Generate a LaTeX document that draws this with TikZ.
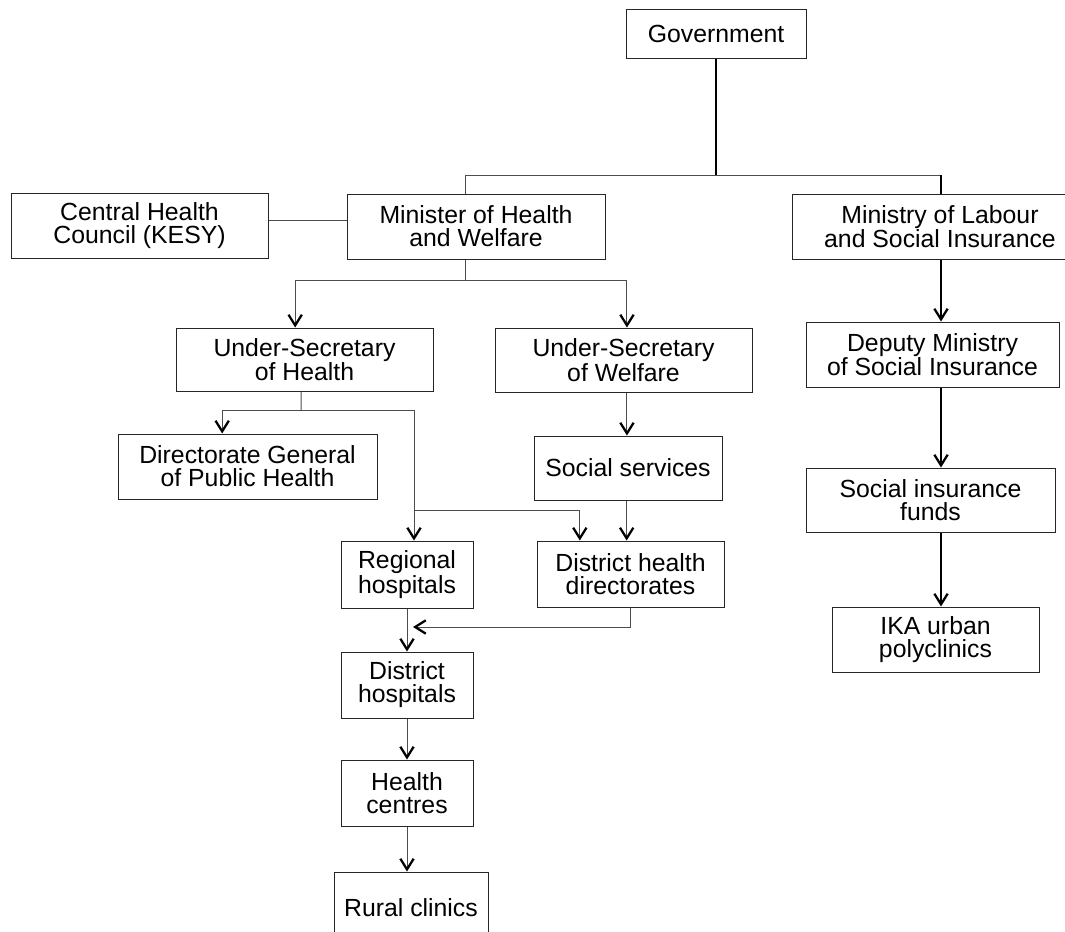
\documentclass[tikz,border=0pt]{standalone}
\usepackage{fontspec}
\setmainfont{Liberation Sans}
\usetikzlibrary{arrows.meta}

\tikzset{
  org/.style={draw=black!85, line width=0.75pt, align=center, inner sep=0pt,
    font=\fontsize{18.6}{17.3}\selectfont},
  boxsize/.style 2 args={minimum width=#1*0.75pt, minimum height=#2*0.75pt},
  link/.style={draw=black!70, line width=0.75pt},
  heavy/.style={draw=black, line width=1.6pt},
  arr/.style={-{Straight Barb[length=8pt,width=10pt,line width=1.7pt,color=black]}}
}

\begin{document}
\begin{tikzpicture}[x=0.75pt, y=-0.75pt]
  \useasboundingbox (0,0) rectangle (1065,932);

  % Boxes
  \node[org, boxsize={180}{49}] (gov) at (716,33.5) {Government};
  \node[org, boxsize={257}{65}] (kesy) at (139.5,225.5) {Central Health\\Council (KESY)};
  \node[org, boxsize={258}{65}] (minh) at (476,226.5) {Minister of Health\\and Welfare};
  \node[org, boxsize={296}{65}] (minl) at (940,226.5) {Ministry of Labour\\and Social Insurance};
  \node[org, boxsize={257}{63}] (ush) at (304.5,359.5) {Under-Secretary\\of Health};
  \node[org, boxsize={257}{64}] (usw) at (623.5,360) {Under-Secretary\\of Welfare};
  \node[org, boxsize={259}{65}] (dgph) at (247.5,466.5) {Directorate General\\of Public Health};
  \node[org, boxsize={188}{64}] (socs) at (628,468) {Social services};
  \node[org, boxsize={132}{67}] (regh) at (407,574.5) {Regional\\hospitals};
  \node[org, boxsize={187}{66}] (dhd) at (630.5,574) {District health\\directorates};
  \node[org, boxsize={132}{66}] (disth) at (407,685) {District\\hospitals};
  \node[org, boxsize={132}{66}] (hc) at (407,793) {Health\\centres};
  \node[org, boxsize={154}{72}] (rural) at (411,908) {Rural clinics};
  \node[org, boxsize={253}{65}] (dep) at (932.5,354.5) {Deputy Ministry\\of Social Insurance};
  \node[org, boxsize={249}{64}] (sif) at (930.5,500) {Social insurance\\funds};
  \node[org, boxsize={207}{65}] (ika) at (935.5,639.5) {IKA urban\\polyclinics};

  % Junctions
  \coordinate (jgov) at (716,175);
  \coordinate (jl) at (465,175);
  \coordinate (jr) at (941,175);
  \coordinate (jm) at (465,280);
  \coordinate (js) at (301,410);
  \coordinate (jh) at (414,510);
  \coordinate (jd) at (413,627);

  % Top level
  \draw[heavy, line width=2.2pt] (gov.south) -- (jgov);
  \draw[link] (jl |- minh.north) -- (jl) -- (jr);
  \draw[heavy] (jr) -- (jr |- minl.north);
  \draw[link] ([yshift=3.4pt]kesy.east) -- ([yshift=3.4pt]kesy.east -| minh.west);

  % Health and welfare
  \draw[link] (jm |- minh.south) -- (jm);
  \draw[link, arr] (jm) -| ([xshift=-7pt]ush.north);
  \draw[link, arr] (jm) -| ([xshift=2.6pt]usw.north);
  \draw[link] ([xshift=-2.6pt]ush.south) -- (js);
  \draw[link, arr] (js) -| ([xshift=-19pt]dgph.north);
  \draw[link, arr] (js) -| ([xshift=5.25pt]regh.north);
  \draw[link, arr] (jh) -| ([xshift=-38pt]dhd.north);
  \draw[link, arr] ([xshift=2.6pt]usw.south) -- ([xshift=2.6pt]usw.south |- socs.north);
  \draw[link, arr] ([xshift=-1pt]socs.south) -- ([xshift=-1pt]socs.south |- dhd.north);
  \draw[link, arr] (dhd.south) |- (jd);
  \draw[link, arr] (regh.south) -- (disth.north);
  \draw[link, arr] (disth.south) -- (hc.north);
  \draw[link, arr] (hc.south) -- (hc.south |- rural.north);

  % Labour and social insurance
  \draw[heavy, arr] (jr |- minl.south) -- (jr |- dep.north);
  \draw[heavy, arr] (jr |- dep.south) -- (jr |- sif.north);
  \draw[heavy, arr] (jr |- sif.south) -- (jr |- ika.north);
\end{tikzpicture}
\end{document}
